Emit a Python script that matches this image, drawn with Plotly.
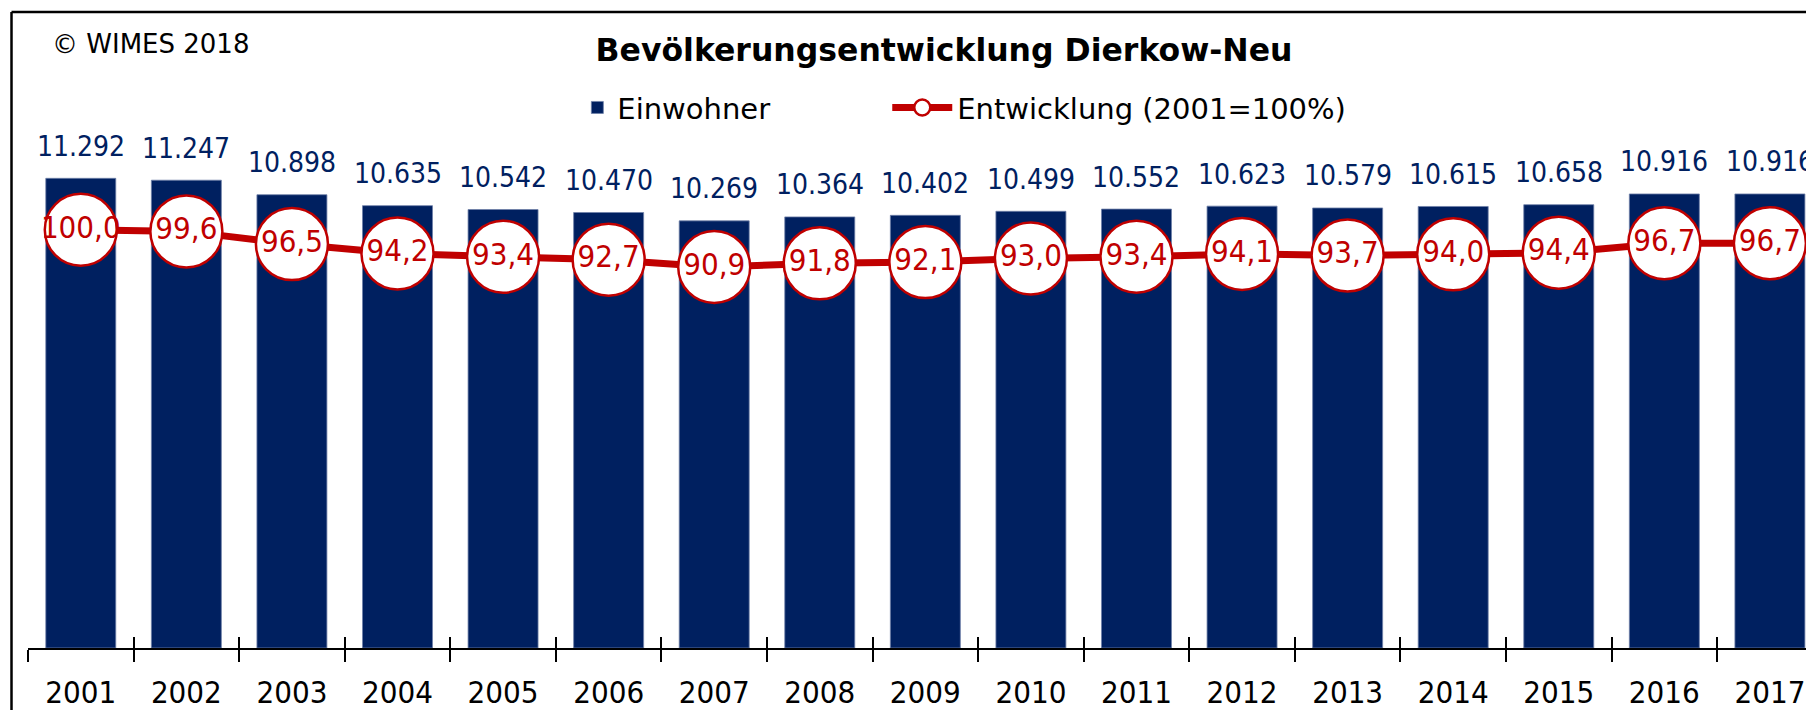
import plotly.graph_objects as go

COND = "DejaVu Sans Condensed, DejaVu Sans, sans-serif"
WIDE = "DejaVu Sans, sans-serif"
NAVY = "#002060"
RED = "#C00000"

jahre = [str(j) for j in range(2001, 2018)]
einwohner = [11292, 11247, 10898, 10635, 10542, 10470, 10269, 10364, 10402,
             10499, 10552, 10623, 10579, 10615, 10658, 10916, 10916]
entwicklung = [100.0, 99.6, 96.5, 94.2, 93.4, 92.7, 90.9, 91.8, 92.1,
               93.0, 93.4, 94.1, 93.7, 94.0, 94.4, 96.7, 96.7]

# the page body has an 8px margin, so the figure is placed at (8, 8)
OFF = 8
W, H = 1814 - 2 * OFF, 718 - 2 * OFF
left, top, bottom = 27.5 - OFF, 120 - OFF, 647.7 - OFF
plot_w = W - left
plot_h = bottom - top


def px_x(p):
    # page pixel -> paper fraction
    return (p - OFF - left) / plot_w


def px_y(p):
    return (bottom - (p - OFF)) / plot_h


fig = go.Figure()

fig.add_trace(go.Bar(
    x=jahre, y=einwohner, name="Einwohner",
    marker=dict(color=NAVY, line=dict(color="#6F80A8", width=0.8)),
    legend="legend", hoverinfo="skip",
))

fig.add_trace(go.Scatter(
    x=jahre, y=entwicklung, name="Entwicklung (2001=100%)",
    xaxis="x2", yaxis="y2", mode="lines+markers",
    line=dict(color=RED, width=7),
    marker=dict(size=72, color="white", line=dict(color=RED, width=2.5)),
    legend="legend2", hoverinfo="skip",
))

fig.add_trace(go.Scatter(
    x=jahre, y=entwicklung, xaxis="x2", yaxis="y2", mode="text",
    texttemplate="%{y:.1f}", textposition="middle center",
    textfont=dict(family=COND, size=31, color=RED),
    showlegend=False, hoverinfo="skip",
))

# value labels above the bars
for i, v in enumerate(einwohner):
    fig.add_annotation(
        x=i, y=v, xref="x", yref="y", text=f"{v:,}".replace(",", "."),
        showarrow=False, yanchor="middle", yshift=32,
        font=dict(family=COND, size=28, color=NAVY),
    )

fig.add_annotation(
    x=px_x(50), y=px_y(44), xref="paper", yref="paper", text="© WIMES 2018",
    showarrow=False, xanchor="left", yanchor="middle",
    font=dict(family=WIDE, size=26, color="black"),
)

# frame around the chart (left and top edges visible)
fig.add_shape(type="line", xref="paper", yref="paper",
              x0=px_x(11), x1=px_x(11), y0=px_y(12), y1=px_y(740),
              line=dict(color="black", width=2.5))
fig.add_shape(type="line", xref="paper", yref="paper",
              x0=px_x(11), x1=px_x(1830), y0=px_y(12), y1=px_y(12),
              line=dict(color="black", width=2.5))

xr = [-0.5, -0.5 + plot_w / 105.6]

fig.update_layout(
    width=W, height=H,
    template="none",
    paper_bgcolor="white", plot_bgcolor="white",
    separators=",.",
    margin=dict(l=left, r=0, t=top, b=H - bottom, pad=0),
    bargap=0.337,
    font=dict(family=COND, color="black"),
    title=dict(
        text="<b>Bevölkerungsentwicklung Dierkow-Neu</b>",
        xref="container", yref="container",
        x=(944 - OFF) / W, y=1 - (50 - OFF) / H,
        xanchor="center", yanchor="middle",
        font=dict(family=WIDE, size=31.5, color="black"),
    ),
    xaxis=dict(
        type="category", range=xr, tickson="boundaries",
        ticks="outside", ticklen=12, tickwidth=1.5, tickcolor="black",
        showline=True, linecolor="black", linewidth=1.5,
        showgrid=False, zeroline=False, automargin=False,
        tickfont=dict(family=COND, size=31, color="black"),
        ticklabelstandoff=16,
    ),
    xaxis2=dict(
        type="category", overlaying="x", matches="x", anchor="y2",
        tickson="boundaries", ticks="inside", ticklen=11, tickwidth=1.5,
        tickcolor="black", showticklabels=False, showline=False,
        showgrid=False, zeroline=False, automargin=False,
    ),
    yaxis=dict(range=[0, plot_h / 0.04157], visible=False,
               showgrid=False, zeroline=False, automargin=False),
    yaxis2=dict(range=[-2.2, -2.2 + plot_h / 4.09], overlaying="y",
                anchor="x2", visible=False, showgrid=False,
                zeroline=False, automargin=False),
    legend=dict(
        x=px_x(577), y=px_y(107.6), xanchor="left", yanchor="middle",
        orientation="h", bgcolor="rgba(0,0,0,0)",
        font=dict(family=WIDE, size=29, color="black"),
    ),
    legend2=dict(
        x=px_x(887), y=px_y(107.6), xanchor="left", yanchor="middle",
        orientation="h", bgcolor="rgba(0,0,0,0)", itemwidth=60,
        font=dict(family=WIDE, size=29, color="black"),
    ),
)

fig.write_html("out.html")
